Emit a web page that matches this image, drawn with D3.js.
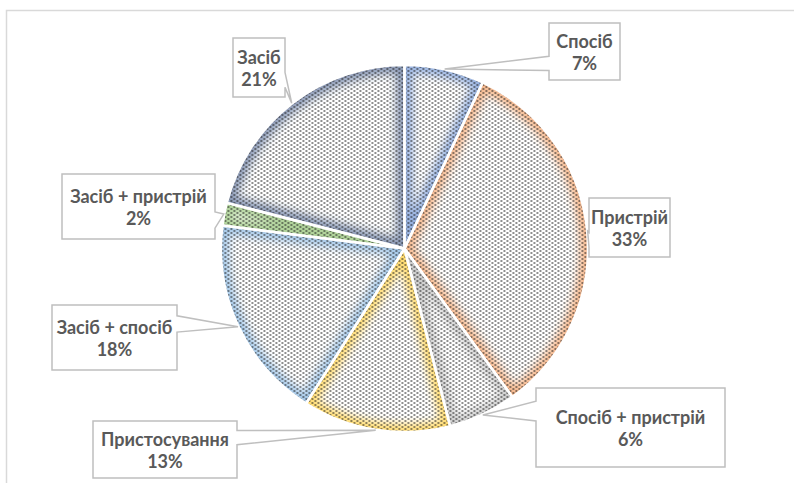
<!DOCTYPE html>
<html>
<head>
<meta charset="utf-8">
<script src="https://cdn.jsdelivr.net/npm/d3@7"></script>
<style>
  html, body { margin: 0; padding: 0; background: #fff; }
  svg { display: block; }
</style>
</head>
<body>
<script>
// Shares by category, clockwise from 12 o'clock
const categories = ["Спосіб", "Пристрій", "Спосіб + пристрій", "Пристосування", "Засіб + спосіб", "Засіб + пристрій", "Засіб"];
const shares = [7, 33, 6, 13, 18, 2, 21];
const sliceColors = ["#4472C4", "#ED7D31", "#A5A5A5", "#FFC000", "#5B9BD5", "#70AD47", "#264478"];

const W = 794, H = 483;
const cx = 404.5, cy = 248.5, R = 183.5;

// callout boxes (x, y, w, h) per category
const boxes = [
  [549, 23, 71, 57],
  [589, 198, 81, 59],
  [536, 388, 189, 79],
  [93, 421, 144, 57],
  [52, 305, 125, 65],
  [62, 174, 153, 65],
  [233, 38, 52, 59]
];

const svg = d3.select("body").append("svg").attr("width", W).attr("height", H);
const defs = svg.append("defs");

// dotted fill on a staggered lattice
const pat = defs.append("pattern").attr("id", "dots")
  .attr("patternUnits", "userSpaceOnUse").attr("width", 6).attr("height", 4)
  .attr("shape-rendering", "crispEdges");
[[0, 0], [3, 2]].forEach(([x, y]) => {
  pat.append("rect").attr("x", x).attr("y", y).attr("width", 1).attr("height", 1).attr("fill", "#000");
  pat.append("rect").attr("x", x + 1).attr("y", y).attr("width", 1).attr("height", 1).attr("fill", "#3a3a3a");
});

defs.append("filter").attr("id", "soft").attr("x", "-20%").attr("y", "-20%").attr("width", "140%").attr("height", "140%")
  .append("feGaussianBlur").attr("stdDeviation", 4);

// chart frame
svg.append("rect").attr("x", 6.5).attr("y", 10.5).attr("width", 1000).attr("height", 1000)
  .attr("fill", "none").attr("stroke", "#D9D9D9").attr("stroke-width", 1.5);

const data = categories.map((c, i) => ({ name: c, value: shares[i], color: sliceColors[i], box: boxes[i] }));
const pie = d3.pie().value(d => d.value).sort(null).startAngle(0).endAngle(2 * Math.PI);
const arcs = pie(data);
const arc = d3.arc().innerRadius(0).outerRadius(R);

const g = svg.append("g").attr("transform", `translate(${cx},${cy})`);

arcs.forEach((a, i) => {
  const id = "clip" + i;
  defs.append("clipPath").attr("id", id).append("path").attr("d", arc(a));
  const s = g.append("g").attr("clip-path", `url(#${id})`);
  s.append("path").attr("d", arc(a)).attr("fill", "#fff");
  s.append("path").attr("d", arc(a)).attr("fill", "none")
    .attr("stroke", a.data.color).attr("stroke-width", 16).attr("stroke-opacity", 0.55)
    .attr("filter", "url(#soft)");
  s.append("path").attr("d", arc(a)).attr("fill", "url(#dots)");
});
// white slice separators
g.selectAll("path.sep").data(arcs).enter().append("path").attr("class", "sep")
  .attr("d", arc).attr("fill", "none").attr("stroke", "#fff").attr("stroke-width", 2.5)
  .attr("stroke-linejoin", "round");

// font size fitted to the widest label
const probe = svg.append("text").attr("font-family", "Lato, 'Open Sans', sans-serif")
  .attr("font-weight", 700).attr("font-size", 100).text("Спосіб + пристрій");
const fs = Math.min(18, 100 * 162 / probe.node().getComputedTextLength());
probe.remove();

// wedge callout path: box with a pointer whose base sits on the side facing the tip
function callout(b, tip) {
  const [x, y, w, h] = b;
  const hc = x + w / 2, vc = y + h / 2;
  const dx = tip[0] - hc, dy = tip[1] - vc;
  const dq = dx * h / w;
  const p = [];
  if (Math.abs(dq) > Math.abs(dy)) {
    const y1 = dy < 0 ? y + h * 2 / 12 : y + h * 7 / 12;
    const y2 = dy < 0 ? y + h * 5 / 12 : y + h * 10 / 12;
    if (dx < 0) {
      p.push([x, y], [x + w, y], [x + w, y + h], [x, y + h], [x, y2], tip, [x, y1]);
    } else {
      p.push([x, y], [x + w, y], [x + w, y1], tip, [x + w, y2], [x + w, y + h], [x, y + h]);
    }
  } else {
    const x1 = dx < 0 ? x + w * 2 / 12 : x + w * 7 / 12;
    const x2 = dx < 0 ? x + w * 5 / 12 : x + w * 10 / 12;
    if (dy < 0) {
      p.push([x, y], [x1, y], tip, [x2, y], [x + w, y], [x + w, y + h], [x, y + h]);
    } else {
      p.push([x, y], [x + w, y], [x + w, y + h], [x2, y + h], tip, [x1, y + h], [x, y + h]);
    }
  }
  return "M" + p.map(q => q.join(",")).join("L") + "Z";
}

const labels = svg.append("g");
arcs.forEach(a => {
  const mid = (a.startAngle + a.endAngle) / 2;
  const tip = [cx + (R + 0.5) * Math.sin(mid), cy - (R + 0.5) * Math.cos(mid)];
  const b = a.data.box;
  labels.append("path").attr("d", callout(b, tip))
    .attr("fill", "#fff").attr("stroke", "#BFBFBF").attr("stroke-width", 1.5)
    .attr("stroke-linejoin", "miter");
  const tx = b[0] + b[2] / 2, ty = b[1] + b[3] / 2;
  const t = labels.append("text").attr("text-anchor", "middle")
    .attr("font-family", "Lato, 'Open Sans', sans-serif").attr("font-weight", 700)
    .attr("font-size", fs).attr("fill", "#595959");
  t.append("tspan").attr("x", tx).attr("y", ty - 4).text(a.data.name);
  t.append("tspan").attr("x", tx).attr("y", ty + 18).text(d3.format(".0%")(a.data.value / 100));
});
</script>
</body>
</html>
